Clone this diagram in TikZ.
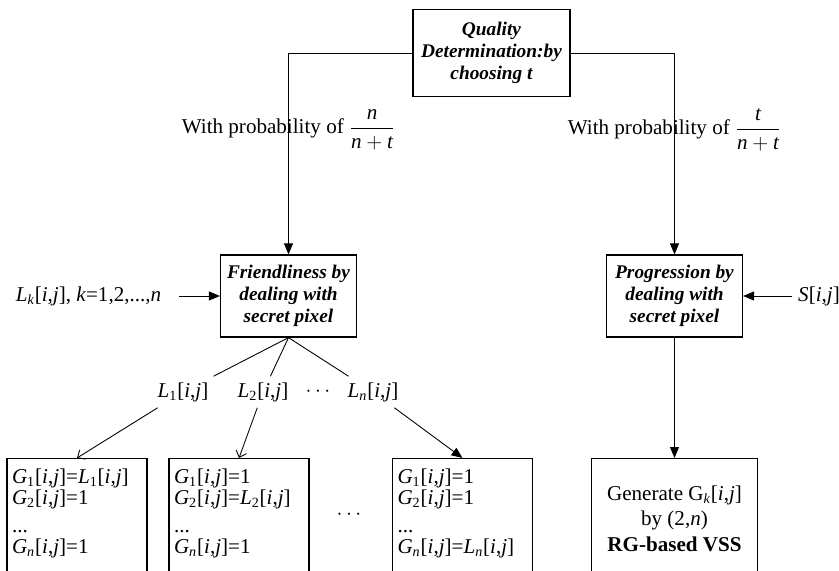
\documentclass[tikz,border=0pt]{standalone}
\usepackage{fontspec}
\setmainfont{Liberation Serif}
\usetikzlibrary{arrows.meta, positioning, calc}
\newcommand{\pij}{[\textit{i},\textit{j}]}
\newcommand{\vsub}[1]{\textsubscript{#1}}
\tikzset{
    stepbox/.style={
        rectangle,
        draw=black,
        line width=0.7pt,
        minimum width=2.72cm,
        minimum height=1.64cm,
        align=center,
        inner sep=2pt,
        font=\fontsize{11}{12.6}\selectfont\bfseries\itshape
    },
    sharebox/.style={
        rectangle,
        draw=black,
        line width=0.7pt,
        anchor=north,
        text width=2.6cm,
        inner xsep=0.1cm,
        inner ysep=6pt,
        align=left,
        text depth=2.2cm,
        font=\fontsize{12}{11.6}\selectfont
    },
    genbox/.style={
        rectangle,
        draw=black,
        line width=0.7pt,
        anchor=north,
        minimum width=3.32cm,
        minimum height=2.4cm,
        align=center,
        font=\fontsize{12}{14.6}\selectfont
    },
    txt/.style={
        font=\fontsize{12}{14}\selectfont
    },
    arrow/.style={
        -{Triangle[length=2.2mm,width=1.8mm]},
        line width=0.5pt
    },
    openarrow/.style={
        -{Straight Barb[length=1.2mm,width=2.2mm]},
        line width=0.5pt
    },
    link/.style={
        line width=0.5pt
    }
}

\begin{document}
\begin{tikzpicture}[x=0.02cm, y=-0.02cm]

    \clip (0,0) rectangle (839,571);

    % Quality
    \node[stepbox, minimum width=3.14cm, minimum height=1.74cm] (quality) at (491.5,53)
        {Quality\\Determination:by\\choosing \textit{t}};

    % Friendliness and progression
    \node[stepbox] (friend) at (288.5,296) {Friendliness by\\dealing with\\secret pixel};
    \node[stepbox] (prog) at (674.5,296) {Progression by\\dealing with\\secret pixel};

    % Inputs
    \node[txt] (lk) at (88.5,296)
        {\textit{L}\vsub{\textit{k}}\pij, \textit{k}=1,2,...,\textit{n}};
    \node[txt] (sij) at (819,296) {\textit{S}\pij};

    % Shares
    \node[txt] (l1) at (183,392) {\textit{L}\vsub{1}\pij};
    \node[txt] (l2) at (263,392) {\textit{L}\vsub{2}\pij};
    \node[txt] (ldots) at (318,392) {$\cdots$};
    \node[txt] (ln) at (373,392) {\textit{L}\vsub{\textit{n}}\pij};

    % Share boxes
    \node[sharebox] (g1) at (77,458)
        {\textit{G}\vsub{1}\pij=\textit{L}\vsub{1}\pij\\
         \textit{G}\vsub{2}\pij=1\\[4.6pt]
         ...\\
         \textit{G}\vsub{\textit{n}}\pij=1};
    \node[sharebox] (g2) at (239,458)
        {\textit{G}\vsub{1}\pij=1\\
         \textit{G}\vsub{2}\pij=\textit{L}\vsub{2}\pij\\[4.6pt]
         ...\\
         \textit{G}\vsub{\textit{n}}\pij=1};
    \node[txt] (gdots) at (349,515) {$\cdots$};
    \node[sharebox] (g3) at (462.5,458)
        {\textit{G}\vsub{1}\pij=1\\
         \textit{G}\vsub{2}\pij=1\\[4.6pt]
         ...\\
         \textit{G}\vsub{\textit{n}}\pij=\textit{L}\vsub{\textit{n}}\pij};

    % Generate
    \node[genbox] (gen) at (674.5,458)
        {Generate G\vsub{\textit{k}}\pij\\by (2,\textit{n})\\\textbf{RG-based VSS}};

    % Branches
    \draw[arrow] (quality.west) -| node[txt, pos=0.69]
        {With probability of $\displaystyle\frac{\textit{n}}{\textit{n}+\textit{t}}$} (friend.north);
    \draw[arrow] (quality.east) -| node[txt, pos=0.69]
        {With probability of $\displaystyle\frac{\textit{t}}{\textit{n}+\textit{t}}$} (prog.north);

    \draw[arrow, shorten <=0.24cm] (lk) -- (friend);
    \draw[arrow] (sij) -- (prog);

    \draw[link] (friend.south) -- (l1);
    \draw[link] (friend.south) -- (l2);
    \draw[link] (friend.south) -- (ln);

    \draw[openarrow] (l1) -- (g1.north);
    \draw[openarrow] (l2) -- (g2.north);
    \draw[arrow] (ln) -- (g3.north);

    \draw[arrow] (prog) -- (gen);

\end{tikzpicture}
\end{document}
